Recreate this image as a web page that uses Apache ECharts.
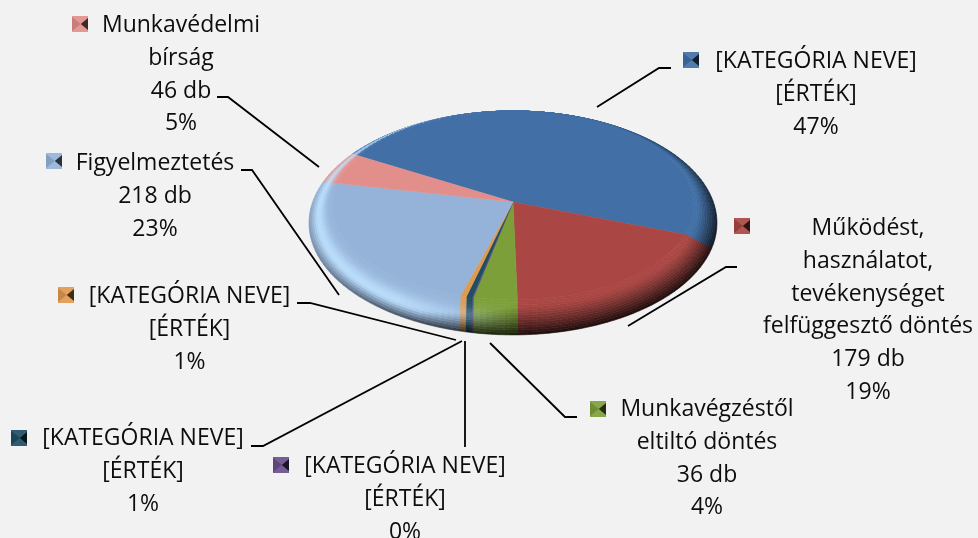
<!DOCTYPE html>
<html>
<head>
<meta charset="utf-8">
<style>html,body{margin:0;padding:0;background:#f2f2f2}#c{width:978px;height:538px}</style>
<script src="https://cdn.jsdelivr.net/npm/echarts@6/dist/echarts.min.js"></script>
</head>
<body>
<div id="c"></div>
<script>
// ---- data (clockwise from the upper-left edge of the large slice)
const categories = [
  '[KATEGÓRIA NEVE]',
  'Működést,\nhasználatot,\ntevékenységet\nfelfüggesztő döntés',
  'Munkavégzéstől\neltiltó döntés',
  '[KATEGÓRIA NEVE]',
  '[KATEGÓRIA NEVE]',
  '[KATEGÓRIA NEVE]',
  'Figyelmeztetés',
  'Munkavédelmi\nbírság'
];
const values = [440, 179, 36, 1, 5, 5, 218, 46];
const valueLabels = ['[ÉRTÉK]', '179 db', '36 db', '[ÉRTÉK]', '[ÉRTÉK]', '[ÉRTÉK]', '218 db', '46 db'];
const percentLabels = ['47%', '19%', '4%', '0%', '1%', '1%', '23%', '5%'];

// ---- styling and layout
const colors = ['#416fa6', '#aa4643', '#7d9f3a', '#6a4f8c', '#1f4e62', '#e09a50', '#95b3d9', '#e28f8c'];
const keyPos = [[683,52],[734,218],[590,401],[273,457],[11,430],[58,287],[46,153],[72,16]];
const textPos = [[816,45],[868,212],[707,393],[405,450],[143,422],[189.5,280],[155,147],[181,9]];
const leaders = [
  [[597,107],[659,68],[671,68]],
  [[628,326],[726,267],[737,267]],
  [[490,343],[565,417],[577,417]],
  [[465,341],[465,447]],
  [[462,341],[263,446],[251,446]],
  [[456,340],[310,303],[297,303]],
  [[339,295],[252,170],[241,170]],
  [[319,167],[228,97],[217,97]]
];
const startDeg = -151, cx = 513, cy = 202, A = 200.4, B = 108, K = 0.1875;
const STRIPS = 14, STEP = 2;
const total = values.reduce((a, b) => a + b, 0);
const rad = d => d * Math.PI / 180;
const clamp = (x, a, b) => Math.max(a, Math.min(b, x));
function proj(deg, r) {
  const u = r * Math.cos(rad(deg)), v = r * Math.sin(rad(deg)), d = 1 - K * v;
  return [cx + A * u / d, cy + B * v / d];
}
function faceR(deg) { return 1 - 0.225 * Math.pow((1 + Math.sin(rad(deg))) / 2, 1.2); }
// Rim point: in front the rim falls almost straight down from the face edge.
function rimPoint(deg) {
  const s = Math.sin(rad(deg));
  if (s <= 0) return proj(deg, 1);
  const g = 1 - 0.26 * s * s;
  const psi = Math.acos(clamp(g * Math.cos(rad(deg)), -1, 1)) * 180 / Math.PI;
  return proj(psi, 1);
}
function bandPoint(deg, t) {
  const O = rimPoint(deg), Q = proj(deg, faceR(deg));
  return [O[0] + (Q[0] - O[0]) * t, O[1] + (Q[1] - O[1]) * t];
}
function rgb(h) { return [1, 3, 5].map(i => parseInt(h.substr(i, 2), 16)); }
function mix(a, b, t) { return a.map((x, i) => x + (b[i] - x) * t); }
function css(c) { return 'rgb(' + c.map(Math.round).join(',') + ')'; }
function bandColor(base, deg, t) {
  const c = Math.cos(rad(deg)), s = Math.sin(rad(deg));
  const width = 0.85 - 0.5 * clamp(-c * 2, 0, 1);
  const dark = clamp(0.4 + 0.3 * c + 0.42 * s, 0, 0.85) * Math.pow(Math.max(0, 1 - t / width), 1.25);
  const hl = clamp(-c * 1.4, 0, 0.85) * Math.exp(-Math.pow((t - 0.42) / 0.28, 2));
  return css(mix(mix(base, [190, 226, 255], hl), [0, 0, 0], dark));
}
function renderItem(params, api) {
  const i = params.dataIndex;
  let before = 0;
  for (let j = 0; j < i; j++) before += values[j];
  const a0 = startDeg + before / total * 360;
  const a1 = a0 + api.value(1) / total * 360;
  const base = rgb(colors[i]);
  const children = [];
  const n = Math.max(1, Math.ceil((a1 - a0) / STEP));
  const ang = k => a0 + (a1 - a0) * k / n;
  // flat face
  const pts = [[cx, cy]];
  for (let k = 0; k <= n; k++) pts.push(proj(ang(k), faceR(ang(k))));
  children.push({type: 'polygon', silent: true, shape: {points: pts},
    style: {fill: colors[i], stroke: colors[i], lineWidth: 0.5}});
  // bevelled rim
  for (let k = 0; k < n; k++) {
    const d0 = ang(k), d1 = ang(k + 1), dm = (d0 + d1) / 2;
    for (let s = 0; s < STRIPS; s++) {
      const t0 = s / STRIPS, t1 = (s + 1) / STRIPS;
      const col = bandColor(base, dm, (t0 + t1) / 2);
      children.push({type: 'polygon', silent: true,
        shape: {points: [bandPoint(d0, t0), bandPoint(d1, t0), bandPoint(d1, t1), bandPoint(d0, t1)]},
        style: {fill: col, stroke: col, lineWidth: 0.6}});
    }
  }
  // leader line
  children.push({type: 'polyline', silent: true, z2: 20, shape: {points: leaders[i]},
    style: {stroke: '#000', lineWidth: 1.8, fill: null}});
  // legend key
  const kx = keyPos[i][0], ky = keyPos[i][1], sz = 16;
  children.push({type: 'rect', silent: true, z2: 20, shape: {x: kx, y: ky, width: sz, height: sz},
    style: {fill: css(mix(base, [255, 255, 255], 0.08))}});
  children.push({type: 'polygon', silent: true, z2: 21,
    shape: {points: [[kx, ky + 1], [kx + sz * 0.55, ky + sz / 2], [kx, ky + sz - 1]]},
    style: {fill: css(mix(base, [0, 0, 0], 0.12))}});
  children.push({type: 'polygon', silent: true, z2: 21,
    shape: {points: [[kx + sz, ky + 2], [kx + sz * 0.55, ky + sz / 2], [kx + sz, ky + sz - 2]]},
    style: {fill: css(mix(base, [0, 0, 0], 0.72))}});
  // label
  children.push({type: 'text', silent: true, z2: 30,
    style: {
      x: textPos[i][0], y: textPos[i][1],
      text: categories[i] + '\n' + valueLabels[i] + '\n' + percentLabels[i],
      align: 'center', verticalAlign: 'top',
      font: '23px "Open Sans"', lineHeight: 32.8, fill: '#0d0d0d'
    }});
  return {type: 'group', children};
}
const chart = echarts.init(document.getElementById('c'), null, {renderer: 'canvas'});
chart.setOption({
  animation: false,
  backgroundColor: '#f2f2f2',
  series: [{
    type: 'custom',
    coordinateSystem: 'none',
    silent: true,
    clip: false,
    renderItem,
    encode: {itemName: 2, value: 1},
    data: values.map((v, i) => [i, v, categories[i]])
  }]
});
</script>
</body>
</html>
